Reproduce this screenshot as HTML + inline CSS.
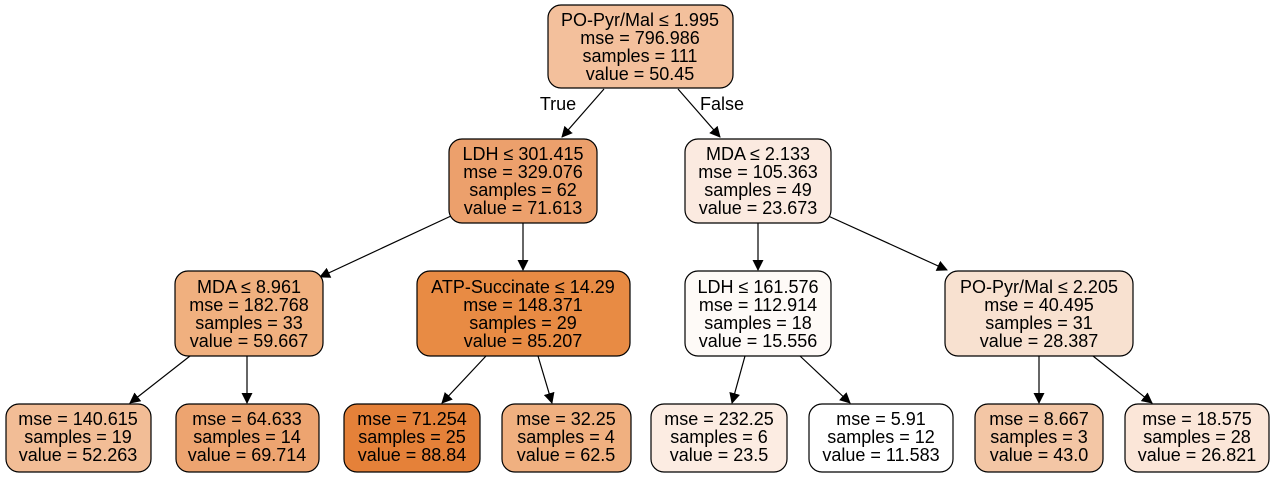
<!DOCTYPE html>
<html><head><meta charset="utf-8"><style>
html,body{margin:0;padding:0;background:#fff;}
svg{display:block;}
text{font-family:"Liberation Sans",Helvetica,Arial,sans-serif;font-size:18px;fill:#000;text-anchor:middle;}
</style></head><body>
<svg width="1274" height="477" viewBox="0 0 1274 477" xmlns="http://www.w3.org/2000/svg">
<defs><marker id="a" markerWidth="11" markerHeight="11" refX="10" refY="5.5" orient="auto" markerUnits="userSpaceOnUse"><path d="M0,0 L11,5.5 L0,11 z" fill="#000"/></marker></defs>
<g stroke="#000" stroke-width="1.2" fill="none">
<line x1="604" y1="89" x2="562" y2="137" marker-end="url(#a)"/>
<line x1="678" y1="89" x2="720" y2="137" marker-end="url(#a)"/>
<line x1="451" y1="216" x2="320" y2="277" marker-end="url(#a)"/>
<line x1="523" y1="223" x2="523" y2="270" marker-end="url(#a)"/>
<line x1="758" y1="223" x2="758" y2="270" marker-end="url(#a)"/>
<line x1="826" y1="215" x2="947" y2="270" marker-end="url(#a)"/>
<line x1="190" y1="356" x2="130" y2="403" marker-end="url(#a)"/>
<line x1="247" y1="356" x2="247" y2="403" marker-end="url(#a)"/>
<line x1="486" y1="356" x2="442" y2="403" marker-end="url(#a)"/>
<line x1="538" y1="356" x2="552" y2="403" marker-end="url(#a)"/>
<line x1="745" y1="356" x2="732" y2="403" marker-end="url(#a)"/>
<line x1="800" y1="356" x2="850" y2="403" marker-end="url(#a)"/>
<line x1="1039" y1="356" x2="1039" y2="403" marker-end="url(#a)"/>
<line x1="1093" y1="356" x2="1152" y2="403" marker-end="url(#a)"/>
</g>
<text x="558" y="110">True</text>
<text x="722" y="110">False</text>
<g stroke="#000" stroke-width="1.2">
<rect x="548" y="5" width="185" height="83" rx="13" fill="#f3c09c"/>
<rect x="449" y="139" width="148" height="84" rx="13" fill="#eca06c"/>
<rect x="685" y="139" width="146" height="84" rx="13" fill="#fbeae0"/>
<rect x="175" y="271" width="148" height="85" rx="13" fill="#f0b07f"/>
<rect x="417" y="271" width="213" height="85" rx="13" fill="#e88b44"/>
<rect x="685" y="271" width="146" height="85" rx="13" fill="#fefaf7"/>
<rect x="945" y="271" width="188" height="85" rx="13" fill="#f8e1d0"/>
<rect x="6" y="404" width="145" height="68" rx="13" fill="#f2bd96"/>
<rect x="176" y="404" width="143" height="68" rx="13" fill="#eda470"/>
<rect x="344" y="404" width="136" height="68" rx="13" fill="#e58139"/>
<rect x="502" y="404" width="129" height="68" rx="13" fill="#f0b080"/>
<rect x="651" y="404" width="136" height="68" rx="13" fill="#fcece2"/>
<rect x="809" y="404" width="144" height="68" rx="13" fill="#ffffff"/>
<rect x="975" y="404" width="128" height="68" rx="13" fill="#f3c6a5"/>
<rect x="1125" y="404" width="144" height="68" rx="13" fill="#fbe6d8"/>
</g>
<g>
<text x="640" y="26">PO-Pyr/Mal ≤ 1.995</text><text x="640" y="44">mse = 796.986</text><text x="640" y="62">samples = 111</text><text x="640" y="80">value = 50.45</text>
<text x="523" y="160">LDH ≤ 301.415</text><text x="523" y="178">mse = 329.076</text><text x="523" y="196">samples = 62</text><text x="523" y="214">value = 71.613</text>
<text x="758" y="160">MDA ≤ 2.133</text><text x="758" y="178">mse = 105.363</text><text x="758" y="196">samples = 49</text><text x="758" y="214">value = 23.673</text>
<text x="249" y="293">MDA ≤ 8.961</text><text x="249" y="311">mse = 182.768</text><text x="249" y="329">samples = 33</text><text x="249" y="347">value = 59.667</text>
<text x="523" y="293">ATP-Succinate ≤ 14.29</text><text x="523" y="311">mse = 148.371</text><text x="523" y="329">samples = 29</text><text x="523" y="347">value = 85.207</text>
<text x="758" y="293">LDH ≤ 161.576</text><text x="758" y="311">mse = 112.914</text><text x="758" y="329">samples = 18</text><text x="758" y="347">value = 15.556</text>
<text x="1039" y="293">PO-Pyr/Mal ≤ 2.205</text><text x="1039" y="311">mse = 40.495</text><text x="1039" y="329">samples = 31</text><text x="1039" y="347">value = 28.387</text>
<text x="78" y="425">mse = 140.615</text><text x="78" y="443">samples = 19</text><text x="78" y="461">value = 52.263</text>
<text x="247" y="425">mse = 64.633</text><text x="247" y="443">samples = 14</text><text x="247" y="461">value = 69.714</text>
<text x="412" y="425">mse = 71.254</text><text x="412" y="443">samples = 25</text><text x="412" y="461">value = 88.84</text>
<text x="566" y="425">mse = 32.25</text><text x="566" y="443">samples = 4</text><text x="566" y="461">value = 62.5</text>
<text x="719" y="425">mse = 232.25</text><text x="719" y="443">samples = 6</text><text x="719" y="461">value = 23.5</text>
<text x="881" y="425">mse = 5.91</text><text x="881" y="443">samples = 12</text><text x="881" y="461">value = 11.583</text>
<text x="1039" y="425">mse = 8.667</text><text x="1039" y="443">samples = 3</text><text x="1039" y="461">value = 43.0</text>
<text x="1197" y="425">mse = 18.575</text><text x="1197" y="443">samples = 28</text><text x="1197" y="461">value = 26.821</text>
</g>
</svg>
</body></html>
